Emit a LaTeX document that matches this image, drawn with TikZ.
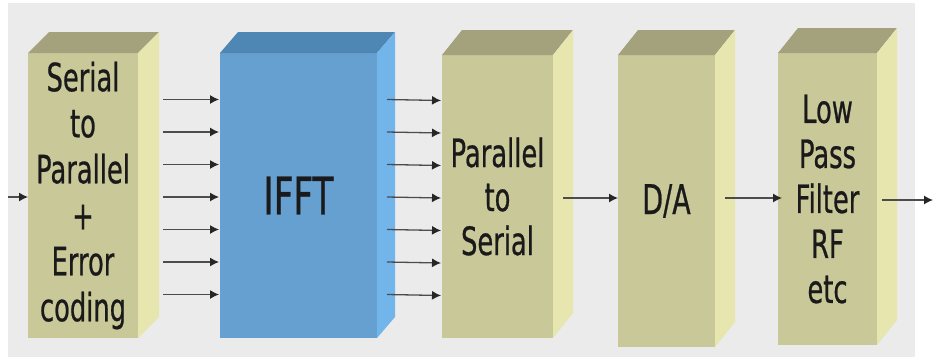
\documentclass[tikz,border=0pt]{standalone}
\usepackage{fontspec}
\setmainfont[FakeStretch=0.66,FakeBold=0.6]{DejaVu Sans}
\usetikzlibrary{arrows.meta,calc}
\definecolor{bg}{HTML}{EBEBEB}
\definecolor{olfront}{HTML}{C9C899}
\definecolor{oltop}{HTML}{A3A27C}
\definecolor{olside}{HTML}{E6E6AE}
\definecolor{blfront}{HTML}{66A0D1}
\definecolor{bltop}{HTML}{4E86B4}
\definecolor{blside}{HTML}{72B5EA}
\definecolor{txt}{HTML}{1A1A1A}
\newcommand\boxfaces[5]{%
  \fill[#4] (#1.north west) -- ++(#2,#3) -- ($(#1.north east)+(#2,#3)$) -- (#1.north east) -- cycle;
  \fill[#5] (#1.north east) -- ++(#2,#3) -- ($(#1.south east)+(#2,#3)$) -- (#1.south east) -- cycle;
}
\begin{document}
\begin{tikzpicture}[x=1pt,y=1pt,
  face/.style={draw=none,inner sep=0pt,outer sep=0pt,anchor=north west,align=center,
    text=txt,font=\fontsize{39}{46}\selectfont},
  arr/.style={draw=black!70,line width=1.3pt,-{Latex[length=9pt,width=9pt,color=black!85]}}]
\useasboundingbox (0,0) rectangle (935,-362);
\fill[bg] (8,-3) rectangle (915,-357);

\node[face,fill=olfront,minimum width=110pt,minimum height=285pt] (b1) at (28,-53)
  {Serial\\to\\Parallel\\+\\Error\\coding};
\boxfaces{b1}{21}{21}{oltop}{olside}

\node[face,fill=blfront,minimum width=157pt,minimum height=285pt,
  font=\fontsize{52}{60}\selectfont] (ifft) at (220,-53) {IFFT};
\boxfaces{ifft}{18}{21}{bltop}{blside}

\node[face,fill=olfront,minimum width=111pt,minimum height=283pt,
  font=\fontsize{39}{44}\selectfont] (b3) at (442,-55) {Parallel\\to\\Serial};
\boxfaces{b3}{20}{25}{oltop}{olside}

\node[face,fill=olfront,minimum width=97pt,minimum height=292pt,
  font=\fontsize{41}{46}\selectfont] (da) at (618,-55) {D/A};
\boxfaces{da}{20}{25}{oltop}{olside}

\node[face,fill=olfront,minimum width=99pt,minimum height=292pt,
  font=\fontsize{39}{45}\selectfont] (lpf) at (778,-53) {Low\\Pass\\Filter\\RF\\etc};
\boxfaces{lpf}{20}{25}{oltop}{olside}

\coordinate (in) at (8,-197);
\coordinate (out) at (933,-200);
\coordinate (ya) at (0,-198);
\coordinate (yb) at (0,-200);
\draw[arr] (in) -- (in -| b1.west);
\foreach \k in {-3,...,3}{
  \draw[arr] ($(b1.east)+(25,{-\k*32.5-1.5})$) -- ($(ifft.west)+(-1,{-\k*32.5-1.5})$);
  \draw[arr] ($(ifft.east)+(10,{-\k*32.5-1.5})$) -- ($(b3.west)+(-1,{-\k*32.5-1.5})$);
}
\draw[arr] ([xshift=10pt]b3.east |- ya) -- (da.west |- ya);
\draw[arr] ([xshift=10pt]da.east |- ya) -- ([xshift=4pt]lpf.west |- ya);
\draw[arr] ([xshift=5pt]lpf.east |- yb) -- (out);
\end{tikzpicture}
\end{document}
